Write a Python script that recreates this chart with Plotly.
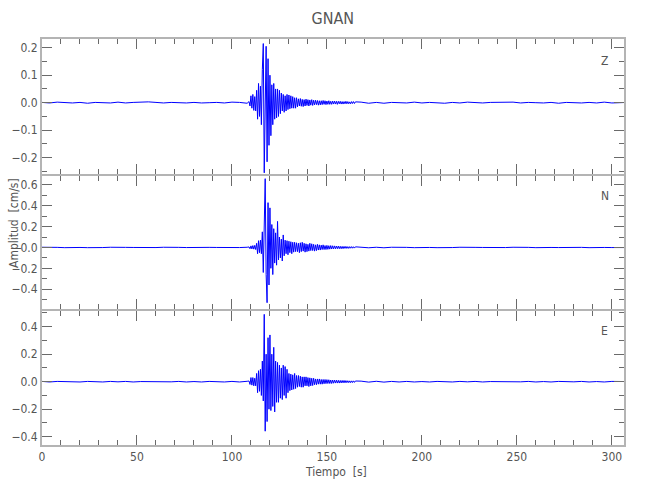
import numpy as np
import plotly.graph_objects as go
from plotly.subplots import make_subplots

# ---------------- data (cm/s) ----------------
station = "GNAN"
components = ["Z", "N", "E"]

# background noise before the event, samples every 4 s from t = 0
z_pre = [0.001, -0.001, 0.002, 0.0, -0.001, 0.001, -0.002, 0.001, 0.0, -0.001,
         0.002, -0.001, 0.001, 0.002, 0.003, 0.001, -0.001, 0.001, 0.0, -0.001,
         0.001, -0.001, 0.0, 0.001, -0.001, 0.002, 0.001, -0.002]
n_pre = [0.002, -0.002, 0.001, -0.002, 0.002, 0.0, -0.002, 0.002, -0.001, 0.002,
         -0.002, 0.001, 0.0, -0.002, 0.002, -0.001, 0.002, -0.002, 0.001, -0.001,
         0.002, -0.002, 0.001, 0.0, -0.002, 0.002, -0.001, 0.002]
e_pre = [0.002, -0.002, 0.002, -0.001, 0.001, -0.002, 0.002, 0.0, -0.002, 0.002,
         -0.001, 0.002, -0.002, 0.001, 0.0, -0.002, 0.002, -0.001, 0.002, -0.002,
         0.001, -0.002, 0.002, 0.0, -0.002, 0.002, -0.002, 0.003]

# event window, samples every 0.5 s from t = 109 s
z_event = [0.004, -0.012, 0.025, -0.02, 0.03, -0.028, 0.022, -0.03,
           0.045, -0.06, 0.07, -0.05, 0.06, -0.08,
           0.12, 0.215, -0.255, 0.09, 0.205, -0.215, 0.16, -0.155, 0.10, -0.12,
           0.065, -0.08, 0.07, -0.06, 0.05, -0.055, 0.05, -0.05, 0.045, -0.04,
           0.035, -0.03, 0.03, -0.035, 0.025, -0.03, 0.03, -0.025, 0.028, -0.022,
           0.025, -0.02, 0.022, -0.02, 0.018, -0.02, 0.018,
           -0.015, 0.014, -0.012, 0.015, -0.013, 0.012, -0.014, 0.011, -0.012, 0.013,
           -0.01, 0.011, -0.012, 0.01, -0.009, 0.011, -0.01, 0.009,
           -0.008, 0.009, -0.007, 0.008, -0.009, 0.007, -0.008, 0.007, -0.007, 0.008,
           -0.006, 0.007, -0.007, 0.006, -0.006, 0.007, -0.006, 0.005, -0.006, 0.006,
           -0.005, 0.006, -0.005, 0.005, -0.006, 0.005, -0.004, 0.005, -0.005, 0.004,
           -0.005, 0.004, -0.004, 0.005, -0.004, 0.004, -0.004, 0.003, -0.004, 0.004,
           -0.003, 0.004, -0.003, 0.003]
n_event = [0.005, -0.012, 0.015, -0.014, 0.018, -0.016, 0.02, -0.02,
           0.04, -0.06, 0.065, -0.05, 0.07, -0.06,
           0.15, -0.24, 0.28, 0.66, -0.26, -0.53, 0.43, -0.36, 0.38, -0.2,
           0.22, -0.26, 0.18, -0.15, 0.14, -0.17, 0.25, -0.12, 0.1, -0.1,
           0.08, -0.13, 0.12, -0.08,
           0.07, -0.06, 0.065, -0.07, 0.06, -0.05, 0.055, -0.06, 0.05, -0.045,
           0.05, -0.04, 0.045, -0.04, 0.04,
           -0.05, 0.045, -0.04, 0.05, -0.035, 0.04, -0.045, 0.035, -0.04, 0.03,
           -0.035, 0.04, -0.03, 0.035, -0.03, 0.03, -0.035, 0.025, -0.03, 0.03,
           -0.025, 0.025,
           -0.025, 0.022, -0.02, 0.025, -0.02, 0.018, -0.02, 0.02, -0.018, 0.017,
           -0.016, 0.018, -0.015, 0.016, -0.014, 0.015, -0.013, 0.014, -0.012, 0.013,
           -0.012, 0.011, -0.012, 0.01, -0.011, 0.01, -0.009, 0.01, -0.009, 0.008,
           -0.009, 0.008, -0.007, 0.008, -0.007, 0.007, -0.006, 0.006]
e_event = [0.005, -0.02, 0.03, -0.025, 0.03, -0.03, 0.025, -0.03,
           0.06, -0.08, 0.08, -0.07, 0.09, -0.1,
           0.15, -0.14, 0.49, -0.36, 0.2, -0.29, 0.32, -0.2, 0.34, -0.21,
           0.2, -0.18, 0.25, -0.22, 0.15, -0.15, 0.14, -0.15, 0.12, -0.12,
           0.1, -0.13, 0.12, -0.1, 0.11, -0.12, 0.09, -0.08,
           0.06, -0.065, 0.055, -0.06, 0.05, -0.055, 0.06, -0.05, 0.045,
           -0.04, 0.045, -0.035, 0.04, -0.04, 0.035, -0.04, 0.035, -0.03, 0.035,
           -0.03, 0.03, -0.035, 0.028, -0.03, 0.025, -0.028, 0.025,
           -0.022, 0.02, -0.022, 0.02, -0.018, 0.02, -0.018, 0.016, -0.018, 0.016,
           -0.015, 0.016, -0.014, 0.015, -0.013, 0.014, -0.013, 0.012, -0.013, 0.012,
           -0.011, 0.012, -0.01, 0.011, -0.01, 0.01, -0.01, 0.009, -0.009, 0.009,
           -0.008, 0.009, -0.008, 0.008, -0.007, 0.007, -0.007, 0.006, -0.007, 0.006,
           -0.006, 0.006, -0.005, 0.005]

# background noise after the event, samples every 4 s from t = 168 s
z_post = [0.002, -0.002, 0.001, -0.002, 0.001, 0.0, -0.001, 0.002, -0.001, 0.001,
          0.0, -0.002, 0.001, -0.001, 0.002, 0.0, -0.001, 0.001, 0.002, 0.001,
          0.002, -0.001, 0.001, 0.0, -0.001, 0.001, -0.002, 0.001, 0.0, -0.001,
          0.001, -0.001, 0.002, -0.001, 0.0, 0.001]
n_post = [0.003, -0.003, 0.002, -0.003, 0.002, -0.002, 0.001, -0.002, 0.002, 0.0,
          -0.002, 0.002, -0.001, 0.002, -0.002, 0.001, 0.0, -0.002, 0.002, -0.001,
          0.002, -0.002, 0.001, -0.002, 0.002, 0.0, -0.001, 0.002, -0.002, 0.001,
          -0.002, 0.002, 0.0, -0.001, 0.002, -0.001]
e_post = [0.004, -0.003, 0.003, -0.003, 0.002, -0.002, 0.002, -0.002, 0.001, -0.002,
          0.002, 0.0, -0.002, 0.002, -0.001, 0.002, -0.002, 0.001, 0.0, -0.002,
          0.002, -0.001, 0.002, -0.002, 0.001, -0.002, 0.002, 0.0, -0.001, 0.002,
          -0.002, 0.001, -0.002, 0.002, -0.001, 0.001]

# sampling of each segment
pre_step, event_start, event_step, post_start, post_step = 4.0, 109.0, 0.5, 168.0, 4.0

y_ranges = [[-0.2593, 0.2316], [-0.5905, 0.6857], [-0.4604, 0.5142]]
y_dticks = [0.1, 0.2, 0.2]
y_domains = [[0.6675, 1.0], [0.33498, 0.66256], [0.0, 0.33005]]
x_range = [0, 306.4]

traces = [(z_pre, z_event, z_post), (n_pre, n_event, n_post), (e_pre, e_event, e_post)]


def series(pre, ev, post):
    t = np.concatenate([
        pre_step * np.arange(len(pre)),
        event_start + event_step * np.arange(len(ev)),
        post_start + post_step * np.arange(len(post)),
    ])
    v = np.concatenate([pre, ev, post])
    return t, v


FONT = "Liberation Sans Narrow, DejaVu Sans Condensed, Arial Narrow, sans-serif"
TXT = "#555555"
AXIS = "#b4b4b4"
TICK = "#6a6a6a"

fig = make_subplots(rows=3, cols=1, shared_xaxes=True, vertical_spacing=0.01)

for i, (pre, ev, post) in enumerate(traces):
    t, v = series(pre, ev, post)
    fig.add_trace(go.Scatter(x=t, y=v, mode="lines",
                             line=dict(color="#0000ff", width=1),
                             showlegend=False, hoverinfo="skip"),
                  row=i + 1, col=1)
    fig.update_yaxes(range=y_ranges[i], domain=y_domains[i], automargin=False,
                     dtick=y_dticks[i], tick0=0, tickformat=".1f",
                     ticks="inside", ticklen=10, tickwidth=1, tickcolor=TICK,
                     minor=dict(ticks="inside", ticklen=5, dtick=y_dticks[i] / 2,
                                tickcolor=TICK, showgrid=False),
                     showline=True, linecolor=AXIS, linewidth=2, mirror="ticks",
                     showgrid=False, zeroline=False,
                     tickfont=dict(family=FONT, size=12, color=TXT),
                     row=i + 1, col=1)
    fig.update_xaxes(range=x_range, automargin=False, dtick=50, tick0=0,
                     ticks="inside", ticklen=10, tickwidth=1, tickcolor=TICK,
                     minor=dict(ticks="inside", ticklen=5, dtick=10,
                                tickcolor=TICK, showgrid=False),
                     showline=True, linecolor=AXIS, linewidth=2, mirror="ticks",
                     showgrid=False, zeroline=False,
                     tickfont=dict(family=FONT, size=12, color=TXT),
                     row=i + 1, col=1)

# component labels
label_y = [0.946, 0.613, 0.281]
for comp, yy in zip(components, label_y):
    fig.add_annotation(text=comp, x=0.967, y=yy, xref="paper", yref="paper",
                       xanchor="center", yanchor="middle",
                       showarrow=False, font=dict(family=FONT, size=12, color=TXT))

fig.add_annotation(text="Amplitud  [cm/s]", x=-0.048, y=0.547, xref="paper", yref="paper",
                   xanchor="center", yanchor="middle",
                   textangle=-90, showarrow=False,
                   font=dict(family=FONT, size=12, color=TXT))
fig.add_annotation(text="Tiempo  [s]", x=0.505, y=-0.066, xref="paper", yref="paper",
                   xanchor="center", yanchor="middle",
                   showarrow=False, font=dict(family=FONT, size=12, color=TXT))

fig.update_layout(
    width=650, height=500,
    margin=dict(l=42, r=26, t=39, b=55, autoexpand=False),
    paper_bgcolor="white", plot_bgcolor="white",
    title=dict(text=station, x=0.512, xanchor="center", y=0.964, yanchor="middle",
               font=dict(family=FONT, size=16, color=TXT)),
)

fig.write_html("out.html", config={"displayModeBar": False},
               post_script="document.body.style.margin='0';document.body.style.padding='0';")
